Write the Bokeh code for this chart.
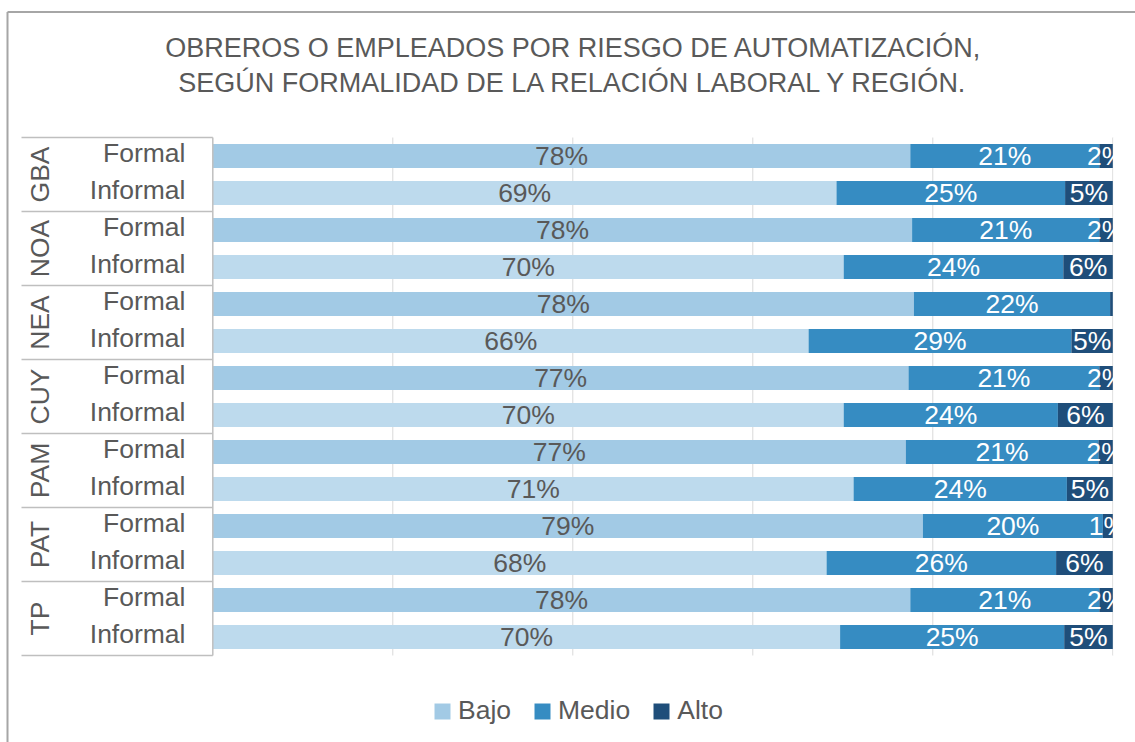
import numpy as np
from bokeh.plotting import figure
from bokeh.models import Range1d, Legend, LegendItem, ColumnDataSource
from bokeh.core.properties import value
from bokeh.embed import file_html
from bokeh.resources import INLINE

# ---------------- data ----------------
regiones = ["GBA", "NOA", "NEA", "CUY", "PAM", "PAT", "TP"]
formalidad = ["Formal", "Informal"]
bajo = [77.5, 69.3, 77.7, 70.1, 77.9, 66.2, 77.3, 70.1, 77.0, 71.2, 78.9, 68.2, 77.5, 69.7]
medio = [21.0, 25.4, 20.8, 24.4, 21.8, 29.2, 21.2, 23.8, 21.4, 23.7, 20.0, 25.5, 21.0, 24.9]
alto = [1.5, 5.3, 1.5, 5.5, 0.3, 4.6, 1.5, 6.1, 1.6, 5.1, 1.1, 6.3, 1.5, 5.4]
series = ["Bajo", "Medio", "Alto"]
x_ticks = [20, 40, 60, 80, 100]
titulo = ["OBREROS O EMPLEADOS POR RIESGO DE AUTOMATIZACIÓN,",
          "SEGÚN FORMALIDAD DE LA RELACIÓN LABORAL Y REGIÓN."]

# ---------------- styles / layout ----------------
FONT = "Liberation Sans"
GRAY = "#595959"
LINE = "#bfbfbf"
C_BAJO_F = "#A2CAE5"
C_BAJO_I = "#BDDAED"
C_MEDIO = "#368CC2"
C_ALTO = "#1F4E7A"
FS = "26.5px"
W, H = 1135, 742
PX_X = 9.0          # pixels per percentage point
PX_Y = 37.0         # pixels per row
X0_PX = 212.3       # canvas x of 0 %
Y0_PX = 137.0       # canvas y of first row top
XMIN = -X0_PX / PX_X
XMAX = (W - X0_PX) / PX_X
YTOP = -Y0_PX / PX_Y
YBOT = (H - Y0_PX) / PX_Y
LEFT_EDGE = (21 - X0_PX) / PX_X
BAR_H = 0.65


def xd(px):
    return (px - X0_PX) / PX_X


def yd(px):
    return (px - Y0_PX) / PX_Y


n_f = len(formalidad)
n = len(regiones) * n_f
y = np.arange(n) + 0.5
vals = np.array([bajo, medio, alto])
rights = np.cumsum(vals, axis=0)
lefts = rights - vals
bajo_colors = [C_BAJO_F if i % n_f == 0 else C_BAJO_I for i in range(n)]

p = figure(frame_width=W, frame_height=H,
           x_range=Range1d(XMIN, XMAX), y_range=Range1d(YBOT, YTOP),
           output_backend="svg", toolbar_location=None,
           x_axis_location=None, y_axis_location=None, min_border=0,
           background_fill_color="white", border_fill_color="white")
p.title.visible = False
p.outline_line_color = None
p.grid.visible = False

# chart border (left and top)
p.segment(x0=[xd(7)], y0=[yd(11.5)], x1=[xd(7)], y1=[YBOT],
          line_color="#a6a6a6", line_width=2)
p.segment(x0=[xd(7)], y0=[yd(11.5)], x1=[XMAX], y1=[yd(11.5)],
          line_color="#a6a6a6", line_width=2)

# vertical gridlines
p.segment(x0=x_ticks, y0=[0] * len(x_ticks), x1=x_ticks, y1=[n] * len(x_ticks),
          line_color="#d9d9d9", line_width=1)

# bars
src_b = ColumnDataSource(dict(y=y, left=lefts[0], right=rights[0], color=bajo_colors))
r_b = p.hbar(y="y", left="left", right="right", height=BAR_H, fill_color="color",
             line_color=None, source=src_b)
r_m = p.hbar(y=y, left=lefts[1], right=rights[1], height=BAR_H, fill_color=C_MEDIO,
             line_color=None)
r_a = p.hbar(y=y, left=lefts[2], right=rights[2], height=BAR_H, fill_color=C_ALTO,
             line_color=None)

# value labels
label_colors = [GRAY, "white", "white"]
for k in range(3):
    mask = vals[k] >= 1
    txt = [f"{int(v + 0.5)}%" for v in vals[k][mask]]
    xc = (lefts[k] + rights[k])[mask] / 2
    p.text(x=xc, y=y[mask], text=txt, text_align="center", text_baseline="middle",
           text_font=value(FONT), text_font_size=FS, text_color=label_colors[k])

# clip labels at the plot's right edge (100 %)
p.quad(left=[x_ticks[-1] + 0.6 / PX_X], right=[XMAX], bottom=[n], top=[0],
       fill_color="white", line_color=None)

# left category structure
bounds = np.arange(0, n + 1, n_f)
p.segment(x0=[LEFT_EDGE] * len(bounds), y0=bounds, x1=[0] * len(bounds), y1=bounds,
          line_color=LINE, line_width=1.5)
p.segment(x0=[0], y0=[0], x1=[0], y1=[n], line_color=LINE, line_width=1.5)

sub_labels = [formalidad[i % n_f] for i in range(n)]
p.text(x=[xd(185)] * n, y=y - 3 / PX_Y, text=sub_labels, text_align="right",
       text_baseline="middle", text_font=value(FONT), text_font_size=FS,
       text_color=GRAY)
gy = bounds[:-1] + n_f / 2
p.text(x=[xd(39.5)] * len(regiones), y=gy, text=regiones, angle=np.pi / 2,
       text_align="center", text_baseline="middle",
       text_font=value(FONT), text_font_size=FS, text_color=GRAY)

# title
tx = xd(573)
p.text(x=[tx, tx], y=[yd(47), yd(82)], text=titulo, text_align="center",
       text_baseline="middle", text_font=value(FONT), text_font_size="27px",
       text_color=GRAY)

# legend
legend = Legend(items=[LegendItem(label=series[0], renderers=[r_b], index=0),
                       LegendItem(label=series[1], renderers=[r_m]),
                       LegendItem(label=series[2], renderers=[r_a])],
                orientation="horizontal", location=(432, 16),
                glyph_width=20, glyph_height=20, label_standoff=6, spacing=21,
                padding=0, margin=0, border_line_color=None,
                background_fill_alpha=0,
                label_text_font=FONT, label_text_font_size=FS,
                label_text_color=GRAY)
p.add_layout(legend)

open("out.html", "w").write(file_html(p, INLINE))
